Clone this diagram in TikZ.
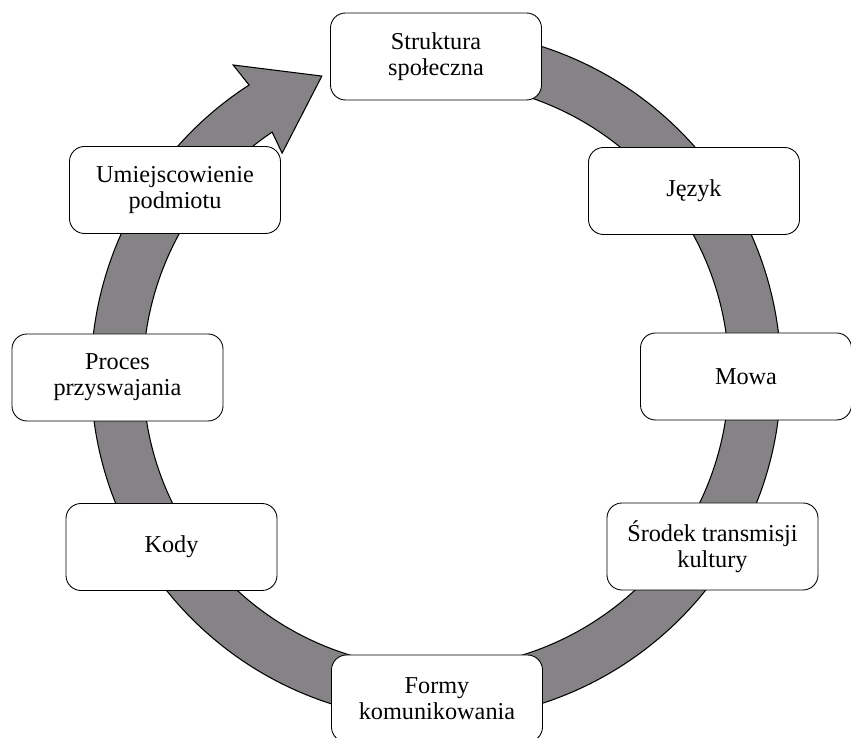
\documentclass[tikz,border=0pt]{standalone}
\usepackage{fontspec}
\setmainfont{Liberation Serif}
\usetikzlibrary{positioning}
\definecolor{ringgray}{RGB}{133,131,133}

\begin{document}
\begin{tikzpicture}[
        font=\fontsize{13.8}{14.6}\selectfont,
        stage/.style={rectangle, draw=black, fill=white, line width=0.5pt,
                      rounded corners=0.3cm, minimum width=4.22cm,
                      minimum height=1.74cm, align=center, inner sep=2pt},
        ring/.style={draw=black, line width=0.6pt, fill=ringgray}
    ]
        \useasboundingbox (-8.72,-7.26) rectangle (8.3,7.5);

        % the cycle arrow
        \draw[ring] (90:6.9) arc[start angle=90, end angle=-237.2, radius=6.9]
            -- (123.2:7.41) -- (110.9:6.4) -- (124.75:5.4) -- (124:5.86)
            arc[start angle=-236, end angle=90, radius=5.86] -- cycle;

        \node[stage] (struktura) at (0,6.37) {Struktura\\społeczna};
        \node[stage] (jezyk) at (5.16,3.68) {Język};
        \node[stage] (mowa) at (6.2,-0.03) {Mowa};
        \node[stage] (srodek) at (5.53,-3.43) {Środek transmisji\\kultury};
        \node[stage] (formy) at (0.02,-6.47) {Formy\\komunikowania};
        \node[stage] (kody) at (-5.29,-3.44) {Kody};
        \node[stage] (proces) at (-6.37,-0.05) {Proces\\przyswajania};
        \node[stage] (miejsce) at (-5.22,3.7) {Umiejscowienie\\podmiotu};
    \end{tikzpicture}
\end{document}
